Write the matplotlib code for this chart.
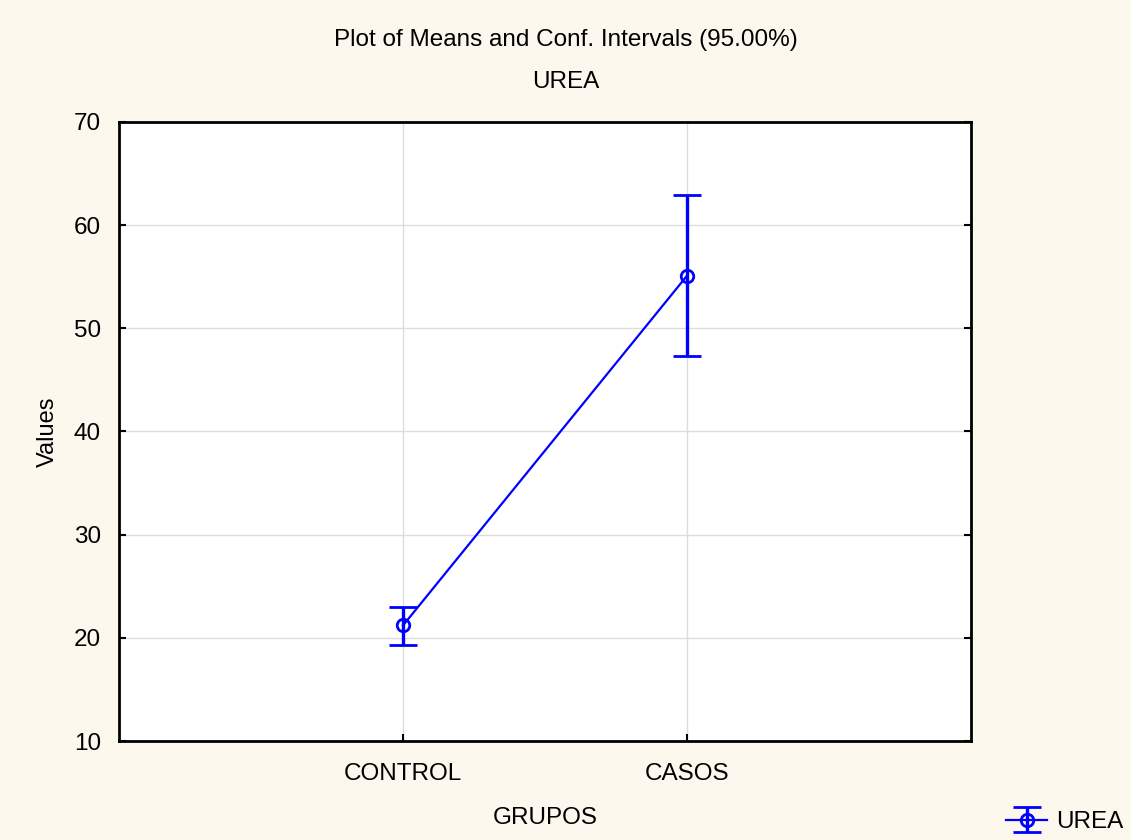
import matplotlib
matplotlib.use("Agg")
from matplotlib import pyplot as plt

plt.rcParams['font.family'] = ['Liberation Sans', 'DejaVu Sans']

groups = ['CONTROL', 'CASOS']
means = [21.2, 55.1]
upper = [23.0, 62.9]
lower = [19.3, 47.3]
yticks = [10, 20, 30, 40, 50, 60, 70]

bg = '#fdf8ee'
blue = '#0000ff'

fig = plt.figure(figsize=(11.31, 8.4), dpi=100, facecolor=bg)
ax = fig.add_axes([119 / 1131, 1 - 741 / 840, 852 / 1131, 619 / 840])
ax.set_facecolor('white')

xs = list(range(1, len(groups) + 1))
err = [[m - l for m, l in zip(means, lower)], [u - m for m, u in zip(means, upper)]]
ax.errorbar(xs, means, yerr=err, color=blue, lw=1.6, marker='o', ms=9,
            mfc='none', mec=blue, mew=2, capsize=10, capthick=2.4, elinewidth=2.4, zorder=3)

ax.set_xlim(0, len(groups) + 1)
ax.set_ylim(10, 70)
ax.set_xticks(xs)
ax.set_xticklabels(groups, fontsize=17.5)
ax.set_yticks(yticks)
ax.tick_params(axis='y', labelsize=17.5, direction='in', length=5, width=1.5, right=True, pad=13)
ax.tick_params(axis='x', direction='in', length=5, width=1.5, pad=16)
ax.grid(True, color='#dddddd', lw=1)
ax.set_axisbelow(True)
for s in ax.spines.values():
    s.set_linewidth(2)

ax.set_ylabel('Values', fontsize=17, labelpad=11)
fig.text(545 / 1131, 1 - 818 / 840, 'GRUPOS', ha='center', va='center', fontsize=17.5)

fig.text(0.5, 1 - 40 / 840, 'Plot of Means and Conf. Intervals (95.00%)', ha='center', va='center', fontsize=17.5)
fig.text(0.5, 1 - 82 / 840, 'UREA', ha='center', va='center', fontsize=17.5)

# legend
leg = fig.legend([ax.containers[0]], ['UREA'], loc='center left', bbox_to_anchor=(994 / 1131, 1 - 822 / 840),
                 frameon=False, fontsize=17.5, handlelength=1.7, borderpad=0, handletextpad=0.35)

fig.savefig('out.png', dpi=100, facecolor=bg)
